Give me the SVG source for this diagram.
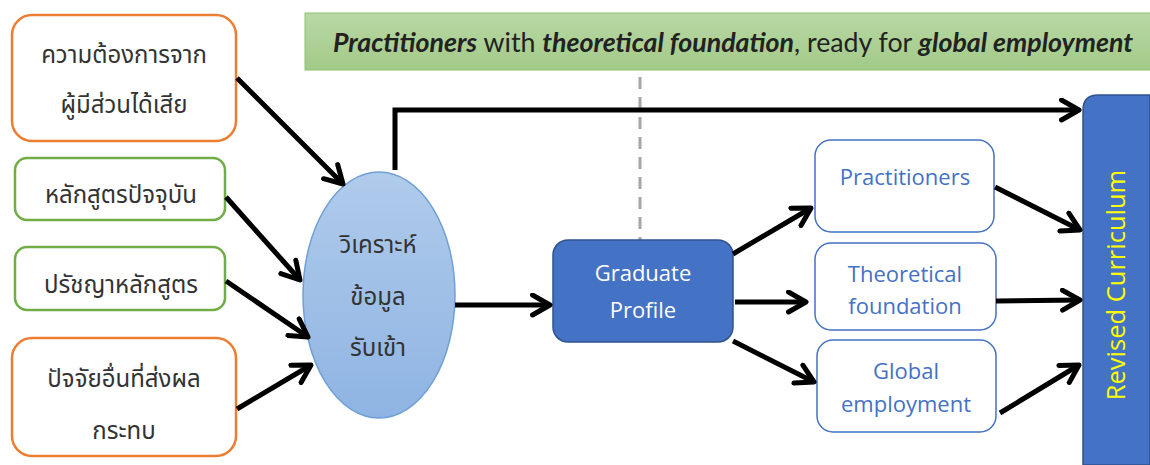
<svg xmlns="http://www.w3.org/2000/svg" width="1150" height="465" viewBox="0 0 1150 465">
<style>
.th{font-family:"Noto Sans Thai","Noto Sans","DejaVu Sans",sans-serif;font-size:24px;fill:#333;text-anchor:middle}
.en{font-family:"Open Sans","Noto Sans",sans-serif;font-size:22px;text-anchor:middle}
.box{fill:#fff;stroke-width:2.5}
.or{stroke:#ed7d31}
.gr{stroke:#70ad47}
.bl{fill:#fff;stroke:#4472c4;stroke-width:1.5}
.c{fill:none;stroke:#000;stroke-width:5;marker-end:url(#ah)}
</style>
<defs>
<marker id="ah" viewBox="0 0 10 10" refX="8" refY="5" markerWidth="5" markerHeight="5" orient="auto" markerUnits="strokeWidth">
<polyline points="1,1 8,5 1,9" fill="none" stroke="#000" stroke-width="2" stroke-linecap="round" stroke-linejoin="round"/>
</marker>
<linearGradient id="eg" x1="0" y1="0" x2="0" y2="1">
<stop offset="0" stop-color="#b0cbeb"/><stop offset="1" stop-color="#8fb4e3"/>
</linearGradient>
<linearGradient id="bg" x1="0" y1="0" x2="0" y2="1">
<stop offset="0" stop-color="#b9d8a5"/><stop offset="1" stop-color="#a2ca88"/>
</linearGradient>
</defs>
<g id="banner">
<rect x="305" y="13" width="850" height="57" fill="url(#bg)" stroke="#8fbf70" stroke-width="1"/>
<text x="733" y="52" font-family="Lato,'Open Sans',sans-serif" font-size="26" text-anchor="middle" fill="#222" textLength="800" lengthAdjust="spacingAndGlyphs"><tspan font-style="italic" font-weight="bold">Practitioners</tspan> with <tspan font-style="italic" font-weight="bold">theoretical foundation</tspan>, ready for <tspan font-style="italic" font-weight="bold">global employment</tspan></text>
</g>
<line x1="640" y1="77" x2="640" y2="240" stroke="#a6a6a6" stroke-width="3" stroke-dasharray="12,8"/>
<g id="n1"><rect class="box or" x="12" y="15" width="224" height="126" rx="20"/><text class="th" x="124" y="63">ความต้องการจาก</text><text class="th" x="124" y="113">ผู้มีส่วนได้เสีย</text></g>
<g id="n2"><rect class="box gr" x="15" y="158" width="210" height="62" rx="12"/><text class="th" x="121" y="203">หลักสูตรปัจจุบัน</text></g>
<g id="n3"><rect class="box gr" x="15" y="247" width="210" height="63" rx="12"/><text class="th" x="121" y="293">ปรัชญาหลักสูตร</text></g>
<g id="n4"><rect class="box or" x="12" y="338" width="224" height="118" rx="20"/><text class="th" x="124" y="387">ปัจจัยอื่นที่ส่งผล</text><text class="th" x="124" y="439">กระทบ</text></g>
<g id="ellipse"><ellipse cx="379" cy="295" rx="76" ry="123" fill="url(#eg)" stroke="#6fa0d8" stroke-width="1.5"/><text class="th" x="378" y="253">วิเคราะห์</text><text class="th" x="378" y="305">ข้อมูล</text><text class="th" x="378" y="356">รับเข้า</text></g>
<g id="gp"><rect x="553" y="240" width="180" height="102" rx="15" fill="#4472c4" stroke="#2f528f" stroke-width="1.5"/><text class="en" x="643" y="281" fill="#fff" font-size="25">Graduate</text><text class="en" x="643" y="318" fill="#fff" font-size="25">Profile</text></g>
<g id="p1"><rect class="bl" x="815" y="140" width="179" height="92" rx="16"/><text class="en" x="905" y="185" fill="#4472c4">Practitioners</text></g>
<g id="p2"><rect class="bl" x="815" y="243" width="181" height="87" rx="16"/><text class="en" x="905" y="282" fill="#4472c4">Theoretical</text><text class="en" x="905" y="314" fill="#4472c4">foundation</text></g>
<g id="p3"><rect class="bl" x="817" y="340" width="179" height="92" rx="16"/><text class="en" x="906" y="379" fill="#4472c4">Global</text><text class="en" x="906" y="412" fill="#4472c4">employment</text></g>
<g id="rc"><path d="M1083,110 Q1083,95 1098,95 L1150,95 L1150,465 L1083,465 Z" fill="#4472c4" stroke="#2f528f" stroke-width="1.5"/><text x="1125" y="285" transform="rotate(-90 1125 285)" font-family="'Open Sans','Noto Sans',sans-serif" font-size="25.5" fill="#ffff00" text-anchor="middle">Revised Curriculum</text></g>
<g id="connectors">
<path class="c" d="M237,78 L343,184"/>
<path class="c" d="M226,197 L300,280"/>
<path class="c" d="M226,281 L308,337"/>
<path class="c" d="M237,409 L311,365"/>
<path class="c" d="M395,170 L395,110 L1079,110"/>
<path class="c" d="M455,305 L550,305"/>
<path class="c" d="M733,254 L811,208"/>
<path class="c" d="M735,302 L806,302"/>
<path class="c" d="M733,341 L814,382"/>
<path class="c" d="M995,187 L1080,230"/>
<path class="c" d="M996,301 L1080,300"/>
<path class="c" d="M1000,413 L1079,365"/>
</g>
</svg>
